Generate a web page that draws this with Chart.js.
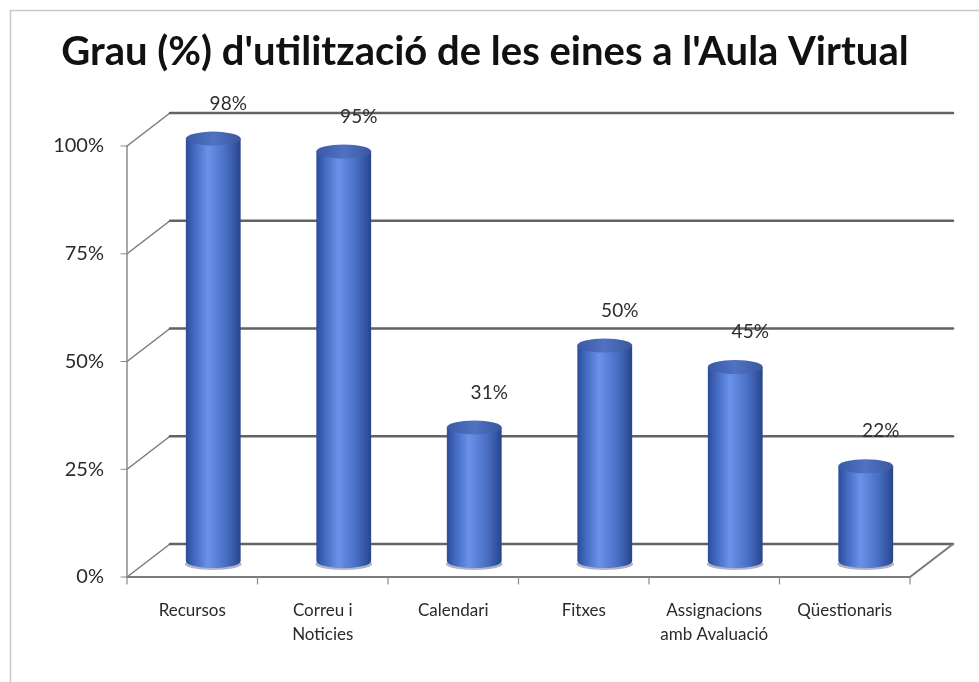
<!DOCTYPE html>
<html>
<head>
<meta charset="utf-8">
<title>Grau d'utilització de les eines</title>
<script src="https://cdn.jsdelivr.net/npm/chart.js@4.4.1/dist/chart.umd.min.js"></script>
<style>
  html, body { margin: 0; padding: 0; background: #fff; }
  #wrap { width: 979px; height: 682px; position: relative; }
</style>
</head>
<body>
<div id="wrap"><canvas id="chart"></canvas></div>
<script>
const categories = ['Recursos', ['Correu i', 'Noticies'], 'Calendari', 'Fitxes', ['Assignacions', 'amb Avaluació'], 'Qüestionaris'];
const usage = [98, 95, 31, 50, 45, 22];
const yTicks = [0, 25, 50, 75, 100];

// fake 3D box: offset of the front wall and back wall from the plane the bars sit in
const FRONT = { dx: -21, dy: 16 };
const BACK = { dx: 22, dy: -17 };
const BAR_PCT = 0.42;

function barGradient(ctx, cx, w) {
    const g = ctx.createLinearGradient(cx - w / 2, 0, cx + w / 2, 0);
    g.addColorStop(0, '#2c4c9a');
    g.addColorStop(0.15, '#4268c0');
    g.addColorStop(0.4, '#6a92e8');
    g.addColorStop(0.72, '#4a70c6');
    g.addColorStop(1, '#27458c');
    return g;
}

const box3d = {
    id: 'box3d',
    beforeDraw(chart) {
        const { ctx } = chart;
        ctx.save();
        ctx.fillStyle = '#fff';
        ctx.fillRect(0, 0, chart.width, chart.height);
        // picture frame (left + top only visible)
        ctx.strokeStyle = '#c9c9c9';
        ctx.lineWidth = 1.5;
        ctx.beginPath();
        ctx.moveTo(10.5, chart.height);
        ctx.lineTo(10.5, 10.5);
        ctx.lineTo(chart.width, 10.5);
        ctx.stroke();
        ctx.restore();
    },
    beforeDatasetsDraw(chart) {
        const { ctx, chartArea: a, scales: { x, y } } = chart;
        ctx.save();
        ctx.lineCap = 'round';

        // side wall diagonals + back wall grid
        yTicks.forEach(v => {
            const py = y.getPixelForValue(v);
            ctx.strokeStyle = '#7a7a7a';
            ctx.lineWidth = 1.5;
            ctx.beginPath();
            ctx.moveTo(a.left + FRONT.dx, py + FRONT.dy);
            ctx.lineTo(a.left + BACK.dx, py + BACK.dy);
            ctx.stroke();
            ctx.strokeStyle = '#636363';
            ctx.lineWidth = 2.5;
            ctx.beginPath();
            ctx.moveTo(a.left + BACK.dx, py + BACK.dy);
            ctx.lineTo(a.right + BACK.dx, py + BACK.dy);
            ctx.stroke();
            // small tick on the front axis
            ctx.strokeStyle = '#8a8a8a';
            ctx.lineWidth = 1.2;
            ctx.beginPath();
            ctx.moveTo(a.left + FRONT.dx - 6, py + FRONT.dy);
            ctx.lineTo(a.left + FRONT.dx, py + FRONT.dy);
            ctx.stroke();
        });

        // floor: front edge and right edge
        const y0 = y.getPixelForValue(0);
        ctx.strokeStyle = '#7a7a7a';
        ctx.lineWidth = 2;
        ctx.beginPath();
        ctx.moveTo(a.left + FRONT.dx, y0 + FRONT.dy);
        ctx.lineTo(a.right + FRONT.dx, y0 + FRONT.dy);
        ctx.lineTo(a.right + BACK.dx, y0 + BACK.dy);
        ctx.stroke();

        // front vertical axis
        ctx.lineWidth = 1.5;
        ctx.strokeStyle = '#8a8a8a';
        ctx.beginPath();
        ctx.moveTo(a.left + FRONT.dx, y.getPixelForValue(100) + FRONT.dy);
        ctx.lineTo(a.left + FRONT.dx, y0 + FRONT.dy);
        ctx.stroke();

        // category ticks on the front floor edge
        const step = a.width / categories.length;
        ctx.lineWidth = 1.2;
        for (let i = 0; i <= categories.length; i++) {
            const px = a.left + i * step + FRONT.dx;
            ctx.beginPath();
            ctx.moveTo(px, y0 + FRONT.dy);
            ctx.lineTo(px, y0 + FRONT.dy + 7);
            ctx.stroke();
        }

        // soft shadow under each cylinder
        chart.getDatasetMeta(0).data.forEach(bar => {
            ctx.fillStyle = 'rgba(25,40,90,0.35)';
            ctx.beginPath();
            ctx.ellipse(bar.x, bar.base + 3, bar.width / 2 + 1, 6, 0, 0, Math.PI * 2);
            ctx.fill();
        });
        ctx.restore();
    },
    afterDatasetsDraw(chart) {
        const { ctx } = chart;
        const values = chart.data.datasets[0].data;
        ctx.save();
        chart.getDatasetMeta(0).data.forEach((bar, i) => {
            const rx = bar.width / 2, ry = 7;
            // rounded bottom
            ctx.fillStyle = barGradient(ctx, bar.x, bar.width);
            ctx.beginPath();
            ctx.ellipse(bar.x, bar.base, rx, ry, 0, 0, Math.PI);
            ctx.fill();
            // top cap
            const g = ctx.createLinearGradient(bar.x - rx, 0, bar.x + rx, 0);
            g.addColorStop(0, '#3a5aa6');
            g.addColorStop(0.5, '#5072c2');
            g.addColorStop(1, '#3a579e');
            ctx.fillStyle = g;
            ctx.beginPath();
            ctx.ellipse(bar.x, bar.y, rx, ry, 0, 0, Math.PI * 2);
            ctx.fill();
            // value label
            ctx.fillStyle = '#2e2e2e';
            ctx.font = '19px Lato';
            ctx.textAlign = 'center';
            ctx.textBaseline = 'middle';
            ctx.fillText(values[i] + '%', bar.x + 15, bar.y - 35);
        });
        ctx.restore();
    }
};

new Chart(document.getElementById('chart'), {
    type: 'bar',
    data: {
        labels: categories,
        datasets: [{
            data: usage,
            barPercentage: BAR_PCT,
            categoryPercentage: 1,
            borderWidth: 0,
            backgroundColor: (c) => {
                const chart = c.chart;
                if (!chart.chartArea) return '#4a6fc4';
                const cx = chart.scales.x.getPixelForValue(c.dataIndex);
                const w = chart.chartArea.width / categories.length * BAR_PCT;
                return barGradient(chart.ctx, cx, w);
            }
        }]
    },
    options: {
        responsive: true,
        maintainAspectRatio: false,
        animation: false,
        layout: { padding: { left: 39, right: 48, top: 0, bottom: 0 } },
        plugins: {
            legend: { display: false },
            tooltip: { enabled: false },
            title: {
                display: true,
                text: "Grau (%) d'utilització de les eines a l'Aula Virtual",
                color: '#111',
                font: { family: 'Lato', size: 40, weight: 'bold' },
                padding: { top: 28, bottom: 54 }
            }
        },
        scales: {
            x: {
                grid: { display: false, drawTicks: false },
                border: { display: false },
                ticks: {
                    padding: 37,
                    labelOffset: FRONT.dx,
                    color: '#2a2a2a',
                    autoSkip: false,
                    maxRotation: 0,
                    font: { family: 'Lato', size: 17, lineHeight: 1.45 }
                },
                afterFit: s => { s.height = 121; }
            },
            y: {
                min: 0,
                max: 100,
                afterBuildTicks: s => { s.ticks = yTicks.map(v => ({ value: v })); },
                grid: { display: false, drawTicks: false },
                border: { display: false },
                ticks: {
                    padding: 44,
                    labelOffset: FRONT.dy,
                    color: '#2a2a2a',
                    callback: v => v + '%',
                    font: { family: 'Lato', size: 20 }
                },
                afterFit: s => { s.width = 109; }
            }
        }
    },
    plugins: [box3d]
});
</script>
</body>
</html>
